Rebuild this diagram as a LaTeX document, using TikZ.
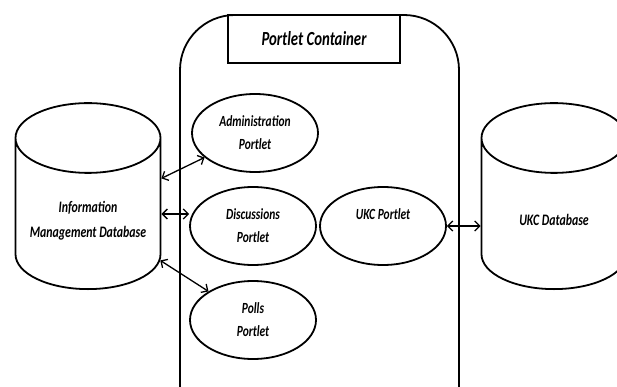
\documentclass[tikz,border=0pt]{standalone}
\usepackage{fontspec}
\setmainfont{Carlito}[FakeStretch=0.74]
\usetikzlibrary{shapes.geometric,arrows.meta}
\tikzset{
    portlet/.style={draw, ellipse, line width=1.8pt, minimum width=126pt, minimum height=78pt,
        inner sep=0pt, align=center, font=\bfseries\itshape\fontsize{15.5}{23}\selectfont},
    dblabel/.style={align=center, font=\bfseries\itshape\fontsize{16}{25}\selectfont},
    database/.style={dblabel, draw, cylinder, shape border rotate=90, aspect=0.6, line width=1.8pt,
        minimum width=145pt, minimum height=186pt, inner sep=0pt},
    link/.style={{Straight Barb[length=5pt,width=10pt]}-{Straight Barb[length=5pt,width=10pt]}, line width=1.3pt}
}
\newcommand{\dbspace}{\phantom{Information}\\\phantom{Management Database}}

\begin{document}
\begin{tikzpicture}[x=1pt, y=-1pt]

    \useasboundingbox (0, 0) rectangle (617, 387);

    % Contenedor de portlets
    \draw[line width=1.8pt, rounded corners=55pt] (180, 15) rectangle (459, 440);
    \node[draw, line width=1.8pt, minimum width=172pt, minimum height=48pt,
        font=\bfseries\itshape\fontsize{20}{22}\selectfont] (title) at (314, 39) {Portlet Container};

    \node[portlet] (admin) at (255, 133) {Administration\\Portlet};
    \node[portlet] (disc) at (253, 226) {Discussions\\Portlet};
    \node[portlet] (polls) at (253, 320) {Polls\\Portlet};
    \node[portlet] (ukc) at (383, 226) {UKC Portlet\\\mbox{}};

    % Bases de datos
    \node[database] (imd) at (88, 214) {\dbspace};
    \node[database] (ukcdb) at (554, 214) {\dbspace};
    \node[dblabel] (imdtext) at ([yshift=-7pt]imd.center) {Information\\Management Database};
    \node[dblabel] (ukcdbtext) at ([yshift=-6pt]ukcdb.center) {UKC Database};

    \draw[link] (imd) -- (admin);
    \draw[link] (imd.east) -- (imd.east -| disc.west);
    \draw[link] (imd) -- (polls);
    \draw[link] (ukc.east) -- (ukc.east -| ukcdb.west);
\end{tikzpicture}
\end{document}
